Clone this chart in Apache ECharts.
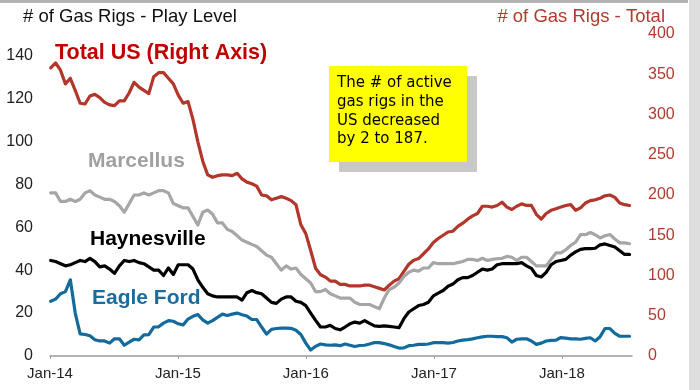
<!DOCTYPE html>
<html>
<head>
<meta charset="utf-8">
<style>
  html, body { margin: 0; padding: 0; background: #ffffff; }
  #chart { width: 700px; height: 390px; }
</style>
<script src="https://cdn.jsdelivr.net/npm/echarts@6/dist/echarts.min.js"></script>
</head>
<body>
<div id="chart"></div>
<script>
// Bi-weekly gas rig counts, first reading on 3 Jan 2014
const startYear = 2014, startMonth = 0, startDay = 3, stepDays = 14;

// Total US gas rigs (right axis)
const totalUS = [
  358, 364, 355, 338, 345, 330, 314, 313, 323, 325, 321, 315, 312, 311, 317, 317,
  327, 340, 334, 330, 326, 347, 352, 352, 345, 338, 324, 314, 316, 294, 266, 242,
  225, 222, 224, 225, 225, 224, 227, 220, 216, 214, 211, 200, 199, 194, 196, 198,
  196, 193, 188, 163, 152, 131, 109, 101, 98, 93, 93, 89, 89, 87, 87, 87,
  88, 88, 86, 84, 82, 88, 93, 96, 105, 114, 119, 121, 127, 133, 141, 146,
  150, 154, 155, 161, 165, 170, 174, 177, 186, 186, 185, 187, 191, 185, 182, 186,
  189, 187, 187, 176, 170, 177, 181, 183, 185, 187, 188, 181, 184, 190, 193, 194,
  196, 199, 200, 197, 190, 188, 187
];

// Marcellus play rigs (left axis)
const marcellus = [
  76, 76, 72, 72, 73, 72, 73, 76, 77, 75, 74, 73, 73, 72, 70, 67,
  71, 75, 75, 76, 75, 76, 77, 77, 76, 71, 70, 69, 69, 65, 61, 67,
  68, 66, 62, 62, 59, 58, 56, 54, 53, 52, 51, 49, 47, 46, 43, 40,
  42, 40.5, 41, 38, 36, 34, 30, 30, 31, 29, 28, 27, 27, 27, 25, 24,
  24, 24, 23, 22, 27, 31, 32, 34, 37, 39, 40, 39.5, 41, 41, 43.5, 43,
  43, 43, 43, 43.5, 44, 45, 45, 44.5, 45.5, 44.5, 45, 45.3, 45.5, 46.4, 46, 44.5,
  46, 46, 44, 42, 42, 42, 45, 48, 48, 49.5, 51.5, 53, 56.5, 56.5, 57.5, 56.5,
  55, 56, 56.6, 54.5, 52.7, 52.7, 52.3
];

// Haynesville play rigs (left axis)
const haynesville = [
  44.5, 44, 43, 42, 42.5, 43.5, 44.5, 44, 45.5, 44, 41.5, 42, 40.5, 38.5, 42, 44.5,
  44, 44.5, 43.5, 43, 41.5, 40, 40, 37.5, 41, 38, 42.5, 42.5, 42.5, 40.5, 35.5, 32,
  29, 28, 27.5, 27.5, 27.5, 27.5, 27.5, 26, 29.5, 30.5, 29.5, 29, 27, 25, 24.5, 26.5,
  27.5, 27.5, 25.5, 25, 23.5, 20, 16.6, 13.5, 13.5, 14.3, 12.8, 12.2, 13.5, 15, 15.8, 15.3,
  16.5, 15.2, 14, 13.8, 14, 13.8, 13.5, 13.2, 17.4, 20.5, 22, 23.5, 24, 25, 28, 29.3,
  30.5, 32.5, 33.5, 35.5, 36.5, 36.5, 37.5, 39, 40.5, 40, 40.5, 42.5, 43, 43, 43, 43,
  43.5, 42, 40.8, 37.5, 36.8, 39, 42.5, 44, 44.5, 45, 47, 48.5, 49.7, 50, 50, 50.2,
  51.8, 52.2, 51.5, 50.8, 49, 47.3, 47.3
];

// Eagle Ford play rigs (left axis)
const eagleFord = [
  25.5, 26.5, 29, 30, 35.5, 20, 10.3, 10, 9.4, 7.6, 7, 7, 6, 8, 8, 5,
  6.5, 7.8, 7.5, 9.8, 10, 13.5, 13.6, 15.3, 16.5, 16.2, 15, 14.5, 17.2, 18.5, 19.3, 16.8,
  15.3, 16.5, 18, 19.5, 18.9, 19.5, 20, 19.2, 18.6, 17, 17, 13.5, 10.2, 12.4, 12.8, 13,
  13, 12.9, 12, 10, 6, 2.8, 4.5, 5.6, 5.2, 5, 5.2, 4.8, 5.6, 5, 4.4, 4.9,
  5, 5.6, 6.3, 6.2, 5.8, 5.2, 4.4, 3.7, 3.8, 4.8, 5, 5.4, 5.4, 5.6, 6.2, 6.2,
  6.2, 6, 6.3, 7, 7.4, 7.6, 8, 8.5, 8.9, 9.2, 9.2, 9, 9, 8.5, 6.5, 7.8,
  8, 8, 7, 5.4, 6, 7, 7.3, 7.4, 8.6, 8.3, 8, 8, 7.8, 8.2, 8.5, 7,
  9, 12.8, 12.8, 10.5, 9.2, 9.2, 9.2
];

// Axis tick labels
const leftTicks = [0, 20, 40, 60, 80, 100, 120, 140];
const rightTicks = [0, 50, 100, 150, 200, 250, 300, 350, 400];
const monthNames = ['Jan', 'Feb', 'Mar', 'Apr', 'May', 'Jun', 'Jul', 'Aug', 'Sep', 'Oct', 'Nov', 'Dec'];

const dates = totalUS.map((_, i) => new Date(startYear, startMonth, startDay + stepDays * i).getTime());
const pair = arr => arr.map((v, i) => [dates[i], v]);

const RED_LINE = '#b3362b';
const RED_TEXT = '#b23a2f';
const GRAY = '#a6a6a6';
const BLUE = '#136a9c';
const FONT = '"Liberation Sans", Arial, sans-serif';

const chart = echarts.init(document.getElementById('chart'), null, { renderer: 'canvas' });

const lineSeries = (name, data, color, yIndex, z) => ({
  name, type: 'line', data: pair(data), yAxisIndex: yIndex, z,
  showSymbol: false, symbol: 'none', smooth: false,
  lineStyle: { color, width: 3.2, join: 'round', cap: 'round' },
  itemStyle: { color },
  emphasis: { disabled: true }
});

chart.setOption({
  animation: false,
  backgroundColor: '#ffffff',
  grid: { left: 50, right: 68, top: 34, bottom: 34, containLabel: false },
  xAxis: {
    type: 'time',
    min: new Date(2014, 0, 1).getTime(),
    max: new Date(2018, 6, 20).getTime(),
    minInterval: 365 * 86400000,
    maxInterval: 366 * 86400000,
    axisLine: { show: true, lineStyle: { color: '#9a9a9a', width: 1.5 } },
    axisTick: { show: true, inside: false, length: 3, lineStyle: { color: '#9a9a9a', width: 1 } },
    splitLine: { show: false },
    axisLabel: {
      color: '#222', fontSize: 15, fontFamily: FONT, margin: 10,
      showMaxLabel: false, hideOverlap: false,
      formatter: v => {
        const d = new Date(v);
        if (d.getMonth() !== 0 || d.getDate() !== 1) return '';
        return monthNames[d.getMonth()] + '-' + String(d.getFullYear()).slice(2);
      }
    }
  },
  yAxis: [
    {
      type: 'value', min: 0, max: 150, interval: 10, position: 'left',
      axisLine: { show: false }, axisTick: { show: false }, splitLine: { show: false },
      axisLabel: {
        color: '#222', fontSize: 16, fontFamily: FONT, margin: 17,
        formatter: v => (leftTicks.includes(v) ? String(v) : '')
      }
    },
    {
      type: 'value', min: 0, max: 400, interval: 50, position: 'right',
      axisLine: { show: false }, axisTick: { show: false }, splitLine: { show: false },
      axisLabel: {
        color: RED_TEXT, fontSize: 16, fontFamily: FONT, margin: 16,
        formatter: v => (rightTicks.includes(v) ? String(v) : '')
      }
    }
  ],
  series: [
    lineSeries('Total US', totalUS, RED_LINE, 1, 2),
    lineSeries('Marcellus', marcellus, GRAY, 0, 3),
    lineSeries('Haynesville', haynesville, '#000000', 0, 4),
    lineSeries('Eagle Ford', eagleFord, BLUE, 0, 5)
  ],
  graphic: [
    // frame edges
    { type: 'rect', shape: { x: 0, y: 0, width: 688, height: 3 }, style: { fill: '#b4b4b4' }, silent: true },
    { type: 'rect', shape: { x: 689, y: 0, width: 11, height: 390 }, style: { fill: '#dedede' }, silent: true },
    // axis titles
    { type: 'text', x: 23, y: 17, style: { text: '# of Gas Rigs - Play Level', font: '18.5px ' + FONT, fill: '#111', textVerticalAlign: 'middle' } },
    { type: 'text', x: 665, y: 17, style: { text: '# of Gas Rigs - Total', font: '18.5px ' + FONT, fill: RED_TEXT, textAlign: 'right', textVerticalAlign: 'middle' } },
    // series names
    { type: 'text', x: 55, y: 53, style: { text: 'Total US (Right Axis)', font: 'bold 21.5px ' + FONT, fill: '#c00000', textVerticalAlign: 'middle' } },
    { type: 'text', x: 88, y: 161, style: { text: 'Marcellus', font: 'bold 21px ' + FONT, fill: '#a0a0a0', textVerticalAlign: 'middle' } },
    { type: 'text', x: 90, y: 239, style: { text: 'Haynesville', font: 'bold 21px ' + FONT, fill: '#000000', textVerticalAlign: 'middle' } },
    { type: 'text', x: 92, y: 298, style: { text: 'Eagle Ford', font: 'bold 21px ' + FONT, fill: '#1a6c9e', textVerticalAlign: 'middle' } },
    // note box with drop shadow
    { type: 'rect', shape: { x: 339, y: 76, width: 138, height: 96 }, style: { fill: '#c8c8c8' }, silent: true },
    { type: 'rect', shape: { x: 329, y: 66, width: 138, height: 96 }, style: { fill: '#ffff00' }, silent: true },
    { type: 'text', x: 337, y: 74, style: {
        text: 'The # of active\ngas rigs in the\nUS decreased\nby 2 to 187.',
        font: '15px "DejaVu Sans", sans-serif', fill: '#000', lineHeight: 18.7
      } }
  ]
});
</script>
</body>
</html>
